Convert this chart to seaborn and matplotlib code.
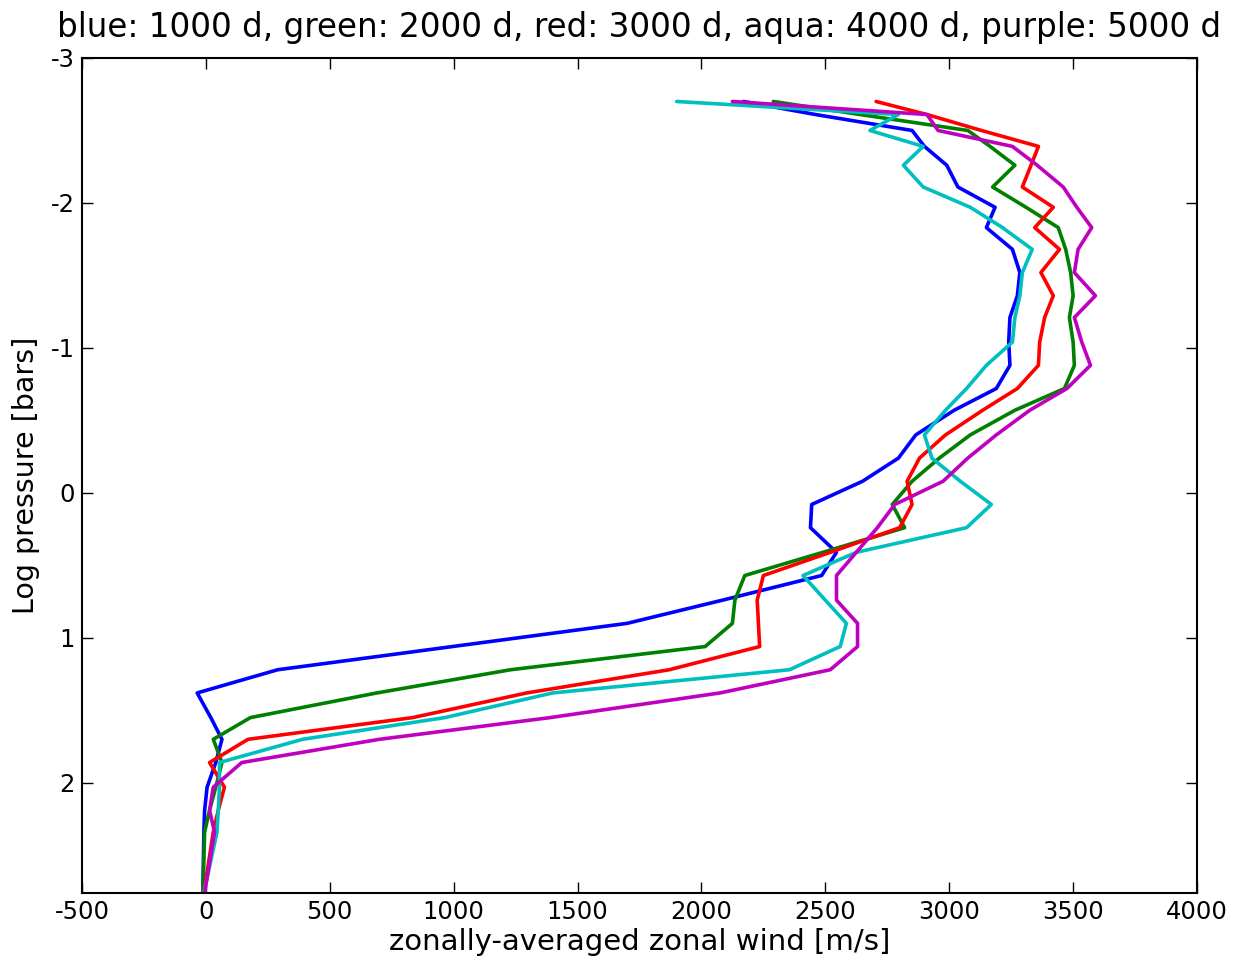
import matplotlib
matplotlib.use("Agg")
import matplotlib.pyplot as plt
import seaborn as sns
import pandas as pd

# log10 pressure levels [bars], top of model to bottom
log_p = [-2.70, -2.61, -2.50, -2.39, -2.26, -2.11, -1.97, -1.83, -1.68, -1.52,
         -1.36, -1.21, -1.04, -0.88, -0.72, -0.57, -0.40, -0.24, -0.08, 0.08,
         0.24, 0.41, 0.57, 0.74, 0.90, 1.06, 1.22, 1.38, 1.55, 1.70,
         1.86, 2.03, 2.19, 2.34, 2.76]

# zonally-averaged zonal wind [m/s] at each level
wind_1000 = [2170, 2460, 2850, 2900, 2990, 3035, 3185, 3150, 3255, 3285,
             3275, 3245, 3240, 3245, 3190, 3020, 2865, 2795, 2650, 2445,
             2440, 2545, 2485, 2085, 1700, 995, 290, -35, 20, 65,
             40, 5, -5, -8, -12]
wind_2000 = [2290, 2640, 3075, 3165, 3265, 3175, 3310, 3440, 3470, 3490,
             3500, 3485, 3500, 3505, 3465, 3265, 3085, 2960, 2850, 2770,
             2820, 2490, 2175, 2135, 2125, 2015, 1230, 690, 180, 30,
             65, 40, 15, -5, -12]
wind_3000 = [2705, 2910, 3130, 3360, 3330, 3295, 3420, 3345, 3445, 3370,
             3420, 3385, 3365, 3360, 3275, 3135, 2985, 2880, 2830, 2850,
             2800, 2520, 2250, 2225, 2230, 2235, 1870, 1295, 835, 170,
             15, 75, 50, 30, -8]
wind_4000 = [1900, 2795, 2680, 2895, 2815, 2895, 3085, 3215, 3335, 3295,
             3285, 3265, 3255, 3150, 3070, 2985, 2900, 2930, 3045, 3170,
             3070, 2625, 2410, 2500, 2585, 2560, 2355, 1400, 965, 390,
             55, 55, 50, 45, -8]
wind_5000 = [2125, 2910, 2955, 3255, 3355, 3460, 3515, 3575, 3520, 3505,
             3590, 3505, 3535, 3570, 3475, 3325, 3190, 3075, 2975, 2780,
             2710, 2625, 2545, 2545, 2630, 2630, 2520, 2075, 1390, 700,
             145, 30, 15, 35, -5]

days = ['1000 d', '2000 d', '3000 d', '4000 d', '5000 d']
series = [wind_1000, wind_2000, wind_3000, wind_4000, wind_5000]
colors = ['#0000ff', '#008000', '#ff0000', '#00bfbf', '#bf00bf']

rows = []
for day, vals in zip(days, series):
    for u, p in zip(vals, log_p):
        rows.append({'wind': u, 'logp': p, 'day': day})
df = pd.DataFrame(rows)

sns.set_style("ticks", {"xtick.direction": "in", "ytick.direction": "in",
                        "text.color": "black", "axes.labelcolor": "black",
                        "xtick.color": "black", "ytick.color": "black"})
plt.rcParams['font.family'] = ['DejaVu Sans']
plt.rcParams['axes.unicode_minus'] = False

fig = plt.figure(figsize=(12.55, 9.6), dpi=100)
ax = fig.add_axes([0.0653, 0.0698, 0.8885, 0.8698])

sns.lineplot(data=df, x='wind', y='logp', hue='day', palette=colors,
             sort=False, orient='y', estimator=None, linewidth=2.6,
             legend=False, ax=ax)

ax.set_xlim(-500, 4000)
ax.set_ylim(2.76, -3)
ax.set_xticks(range(-500, 4001, 500))
ax.set_yticks([-3, -2, -1, 0, 1, 2])
ax.tick_params(top=True, right=True, length=8, width=1, labelsize=17.5,
               colors='black', pad=5)
for s in ax.spines.values():
    s.set_color('black')
    s.set_linewidth(1.5)

ax.set_xlabel('zonally-averaged zonal wind [m/s]', fontsize=21, labelpad=3,
              color='black')
ax.set_ylabel('Log pressure [bars]', fontsize=20.5, labelpad=8, color='black')
ax.set_title('blue: 1000 d, green: 2000 d, red: 3000 d, aqua: 4000 d, purple: 5000 d',
             fontsize=23.5, pad=15, color='black')

fig.savefig('out.png', dpi=100)
